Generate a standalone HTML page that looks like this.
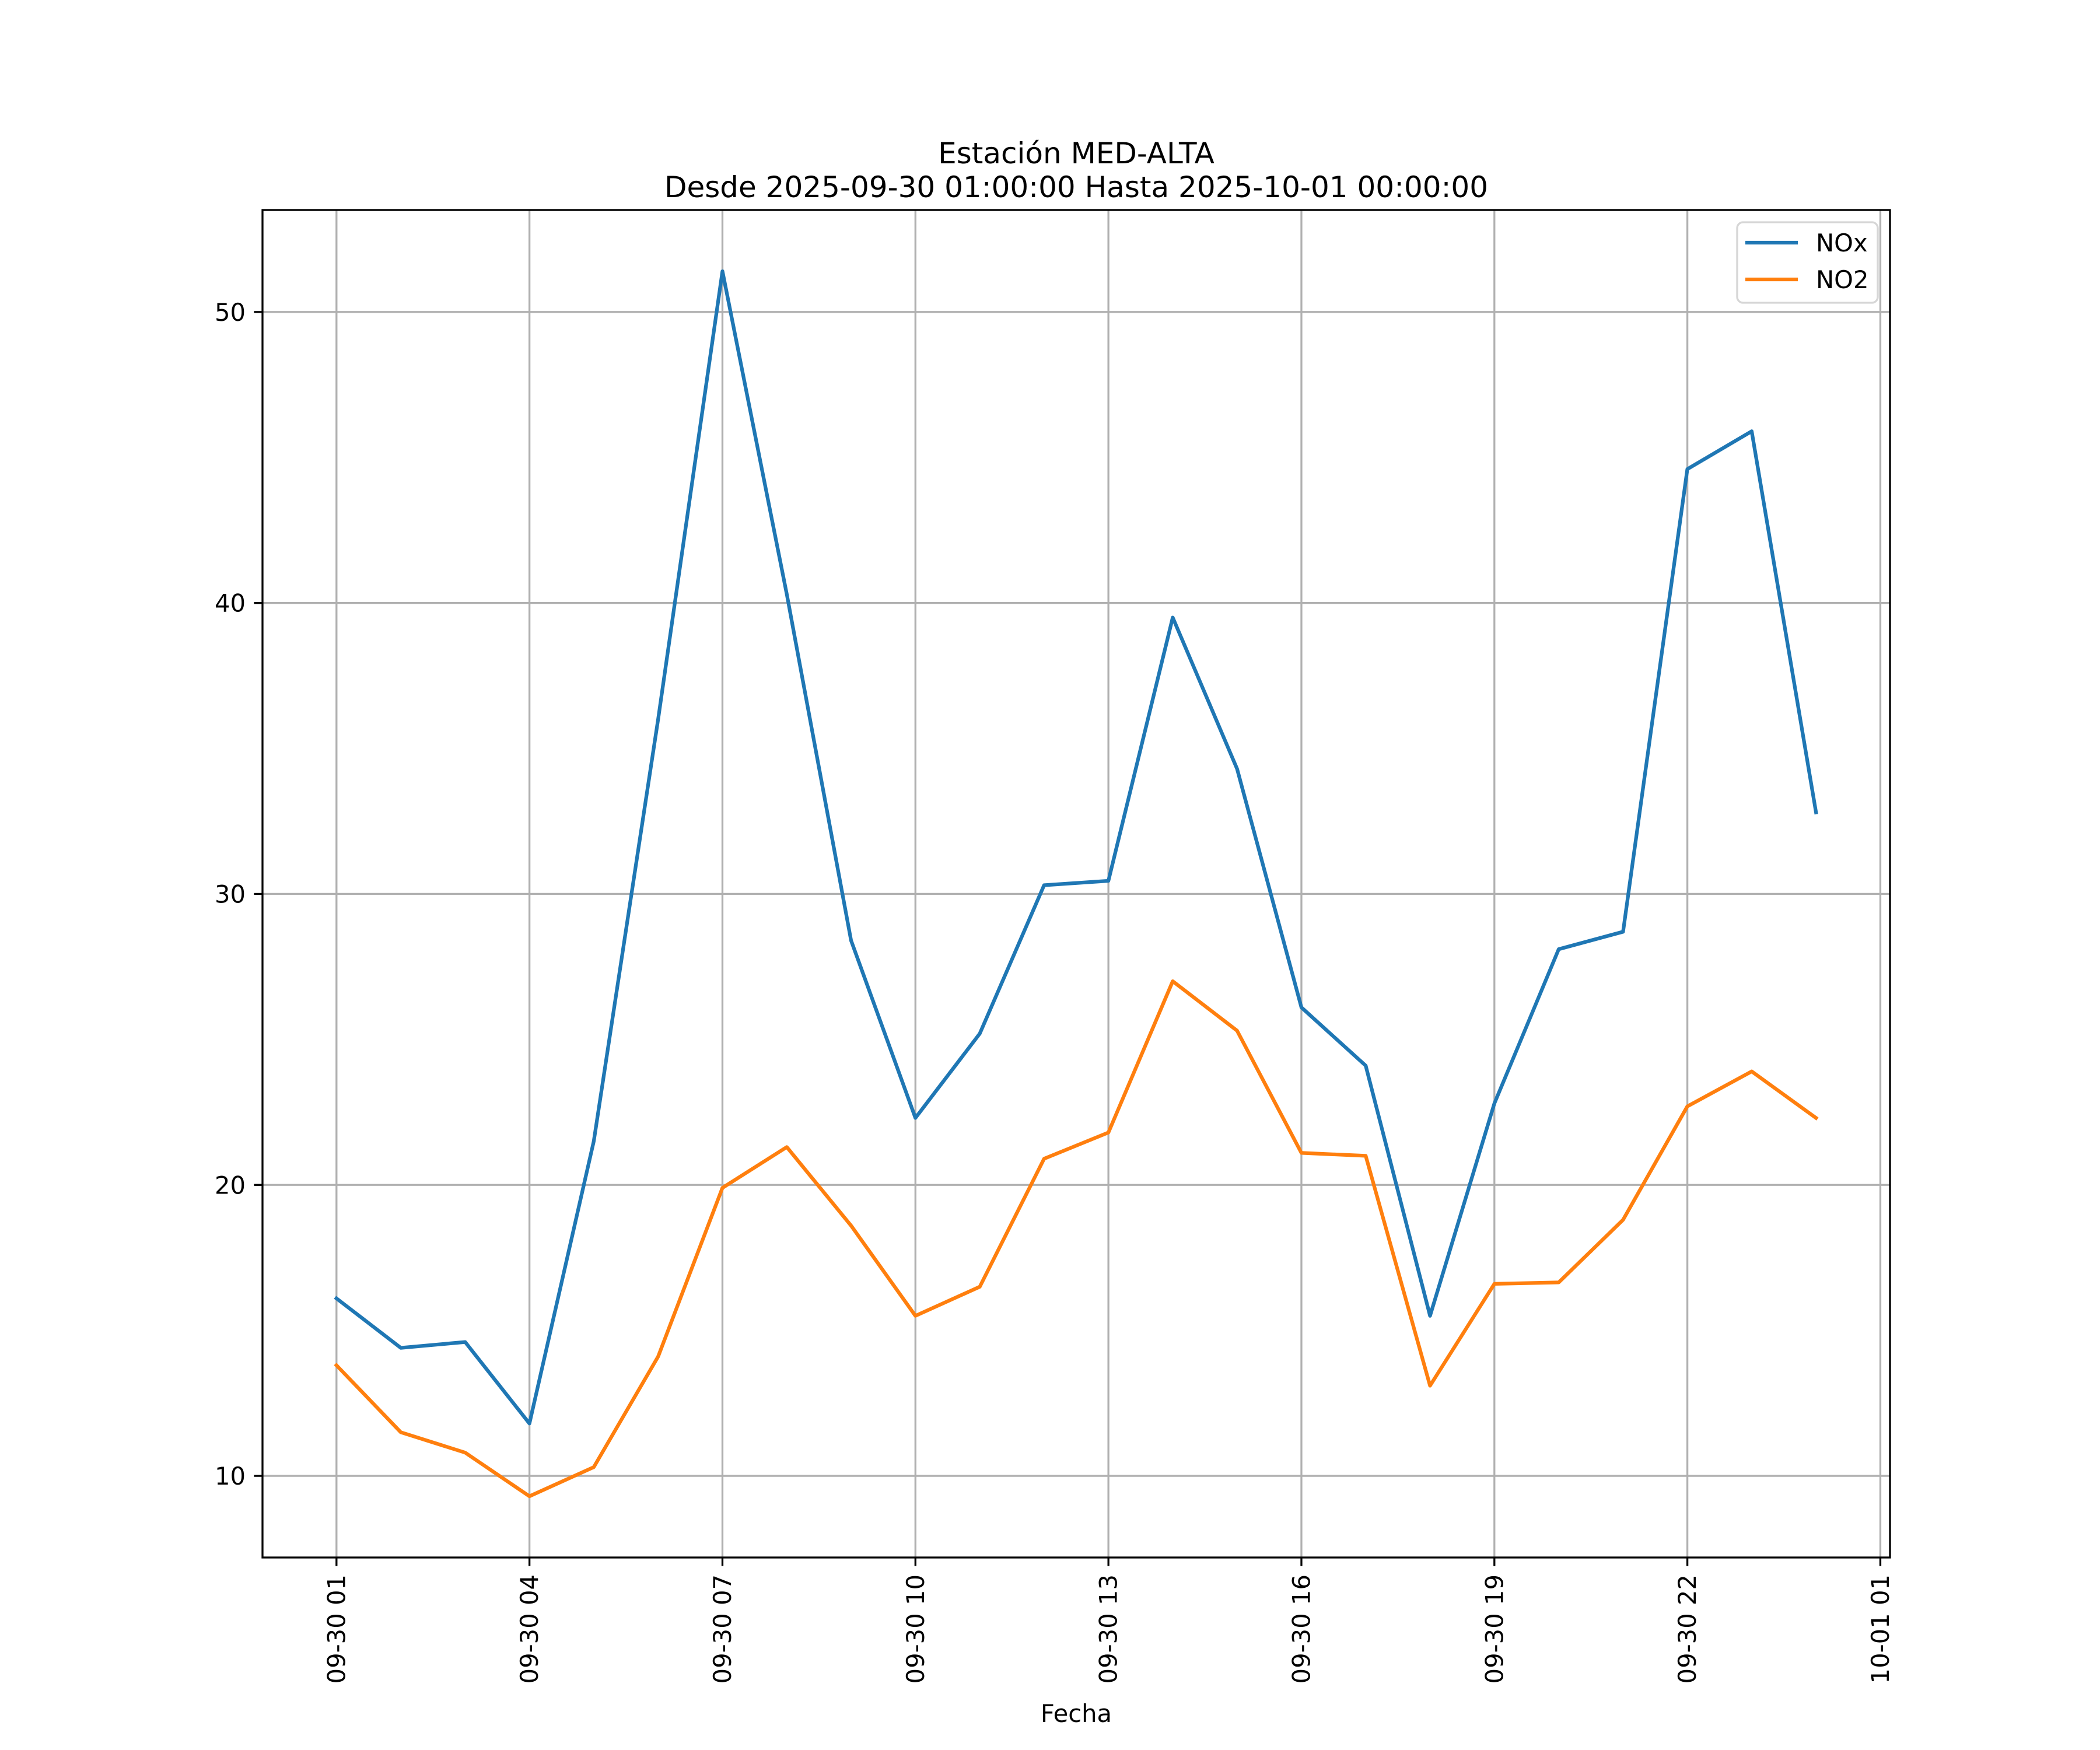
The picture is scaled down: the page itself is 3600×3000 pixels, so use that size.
<!DOCTYPE html>
<html><head><meta charset="utf-8"><style>
html,body{margin:0;padding:0;background:#fff}
svg{display:block;font-family:"DejaVu Sans","Liberation Sans",sans-serif}
</style></head><body>
<svg id="chart" xmlns="http://www.w3.org/2000/svg" width="3600" height="3000" viewBox="0 0 3600 3000">
<rect width="3600" height="3000" fill="#fff"/>
<text x="1845" y="280" font-size="50" text-anchor="middle">Estación MED-ALTA</text>
<text x="1845" y="338" font-size="50" text-anchor="middle">Desde 2025-09-30 01:00:00 Hasta 2025-10-01 00:00:00</text>
<g id="grid"></g>
<g id="series"></g>
<rect x="450" y="360" width="2790" height="2310" fill="none" stroke="#000" stroke-width="3.3"/>
<g id="ticks"></g>
<text x="1845" y="2952" font-size="41.7" text-anchor="middle">Fecha</text>
<g>
<rect x="2978" y="381" width="241" height="138" rx="10" fill="#fff" fill-opacity="0.8" stroke="#d6d6d6" stroke-width="3.3"/>
<line x1="2992" y1="416" x2="3082" y2="416" stroke="#1f77b4" stroke-width="6.25"/>
<text x="3113" y="431" font-size="41.7">NOx</text>
<line x1="2992" y1="479" x2="3082" y2="479" stroke="#ff7f0e" stroke-width="6.25"/>
<text x="3113" y="494" font-size="41.7">NO2</text>
</g>
</svg>
<script>
const hours = [1,2,3,4,5,6,7,8,9,10,11,12,13,14,15,16,17,18,19,20,21,22,23,24];
const noxValues = [16.1,14.4,14.6,11.8,21.5,36.0,51.4,40.3,28.4,22.3,25.2,30.3,30.45,39.5,34.3,26.1,24.1,15.5,22.8,28.1,28.7,44.6,45.9,32.8];
const no2Values = [13.8,11.5,10.8,9.3,10.3,14.1,19.9,21.3,18.6,15.5,16.5,20.9,21.8,27.0,25.3,21.1,21.0,13.1,16.6,16.65,18.8,22.7,23.9,22.3];
const xTickHours = [1,4,7,10,13,16,19,22,25];
const xTickLabels = ["09-30 01","09-30 04","09-30 07","09-30 10","09-30 13","09-30 16","09-30 19","09-30 22","10-01 01"];
const yTickValues = [10,20,30,40,50];

const L=450,R=3240,T=360,B=2670;
const hMin=Math.min(...hours),hMax=Math.max(...hours),hPad=(hMax-hMin)*0.05;
const allV=noxValues.concat(no2Values);
const vMin=Math.min(...allV),vMax=Math.max(...allV),vPad=(vMax-vMin)*0.05;
function xs(h){return L+(h-(hMin-hPad))/((hMax+hPad)-(hMin-hPad))*(R-L);}
function ys(v){return B-(v-(vMin-vPad))/((vMax+vPad)-(vMin-vPad))*(B-T);}
const NS="http://www.w3.org/2000/svg";
function mk(tag,attrs,parent){const e=document.createElementNS(NS,tag);for(const k in attrs)e.setAttribute(k,attrs[k]);parent.appendChild(e);return e;}
const grid=document.getElementById('grid'),ticks=document.getElementById('ticks'),series=document.getElementById('series');

xTickHours.forEach((h,i)=>{
  const x=xs(h);
  const g=mk('line',{x1:x,y1:T,x2:x,y2:B,stroke:'#b0b0b0','stroke-width':3.3},grid);
  
  
  const t=mk('line',{x1:x,y1:B,x2:x,y2:B+14.6,stroke:'#000','stroke-width':3.3},ticks);
  
  
  const lb=mk('text',{x:0,y:0,'font-size':41.7,'text-anchor':'end','dominant-baseline':'central',transform:`translate(${x},${B+29}) rotate(-90)`},ticks);
  lb.textContent=xTickLabels[i];
  
  
});
yTickValues.forEach(v=>{
  const y=ys(v);
  const g=mk('line',{x1:L,y1:y,x2:R,y2:y,stroke:'#b0b0b0','stroke-width':3.3},grid);
  
  
  const t=mk('line',{x1:L-14.6,y1:y,x2:L,y2:y,stroke:'#000','stroke-width':3.3},ticks);
  
  
  const lb=mk('text',{x:L-29,y:y+15,'font-size':41.7,'text-anchor':'end'},ticks);
  lb.textContent=String(v);
  
  
});
function drawLine(vals,color,name){
  const pts=vals.map((v,i)=>xs(hours[i]).toFixed(1)+','+ys(v).toFixed(1)).join(' ');
  const p=mk('polyline',{points:pts,fill:'none',stroke:color,'stroke-width':6.25,'stroke-linejoin':'round','stroke-linecap':'square'},series);
  
  
}
drawLine(noxValues,'#1f77b4','nox-line');
drawLine(no2Values,'#ff7f0e','no2-line');
</script>
</body></html>
